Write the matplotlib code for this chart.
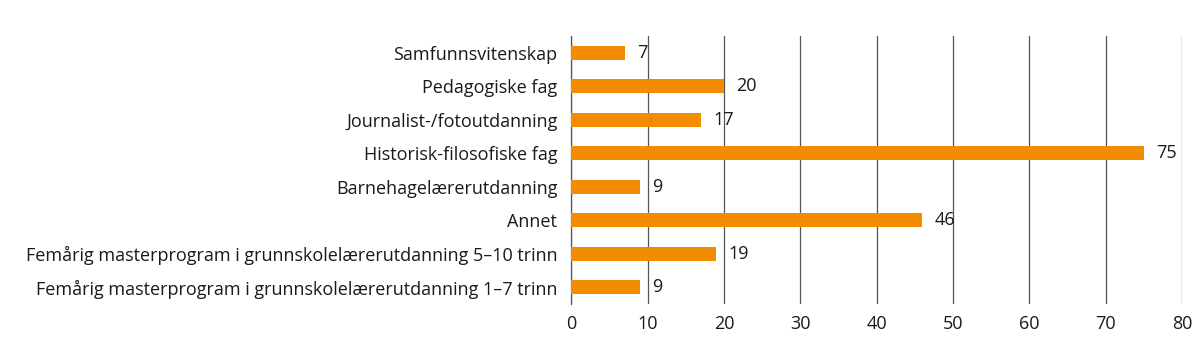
import matplotlib.pyplot as plt

plt.rcParams['font.family'] = ['Open Sans', 'DejaVu Sans']

categories = [
    'Samfunnsvitenskap',
    'Pedagogiske fag',
    'Journalist-/fotoutdanning',
    'Historisk-filosofiske fag',
    'Barnehagelærerutdanning',
    'Annet',
    'Femårig masterprogram i grunnskolelærerutdanning 5–10 trinn',
    'Femårig masterprogram i grunnskolelærerutdanning 1–7 trinn',
]
values = [7, 20, 17, 75, 9, 46, 19, 9]
xticks = [0, 10, 20, 30, 40, 50, 60, 70, 80]

fig = plt.figure(figsize=(12, 3.56), dpi=100)
ax = fig.add_axes([0.476, 0.146, 0.509, 0.753])

ypos = list(range(len(categories)))
ax.barh(ypos, values, height=0.42, color='#F28C00', zorder=3)
for y, v in zip(ypos, values):
    ax.annotate(str(v), (v, y), xytext=(9, 0), textcoords='offset points',
                va='center', ha='left', fontsize=13, color='#1a1a1a')

ax.set_yticks(ypos)
ax.set_yticklabels(categories, fontsize=13, color='#1a1a1a')
ax.set_ylim(len(categories) - 0.5, -0.5)
ax.set_xlim(0, 80)
ax.set_xticks(xticks)
ax.set_xticklabels([str(t) for t in xticks], fontsize=13, color='#1a1a1a')
ax.tick_params(length=0, pad=8)
ax.tick_params(axis='y', pad=10)
ax.grid(axis='x', color='#555555', linewidth=0.9, zorder=0)
for s in ['top', 'right', 'bottom']:
    ax.spines[s].set_visible(False)
ax.spines['left'].set_color('#555555')
ax.spines['left'].set_linewidth(0.9)

fig.savefig('out.png', dpi=100)
